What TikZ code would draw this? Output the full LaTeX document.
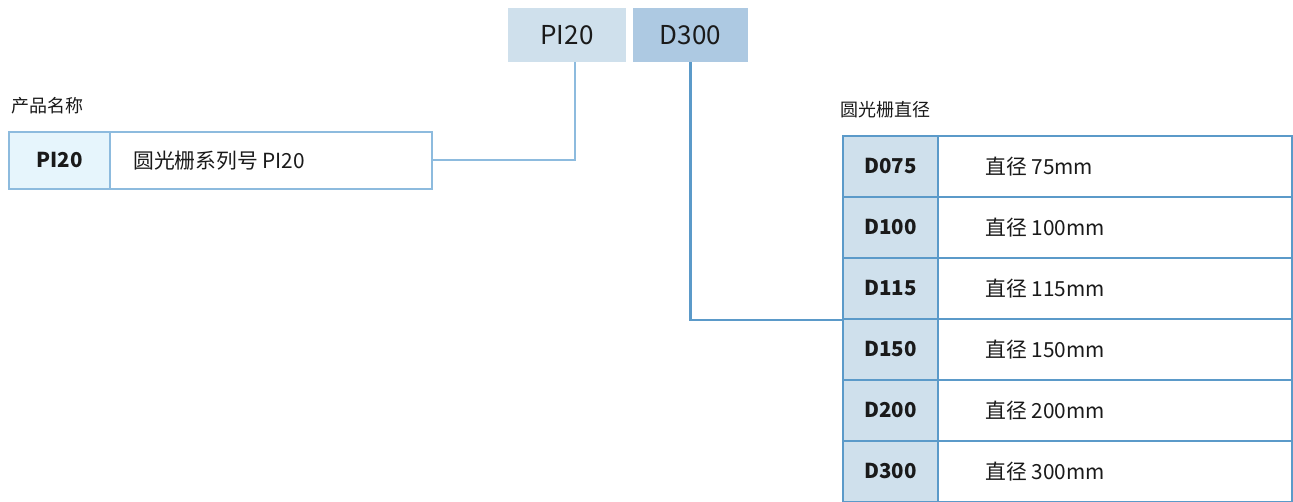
\documentclass[tikz,border=0pt]{standalone}
\usepackage{fontspec}
\setmainfont{Noto Sans CJK SC}
\definecolor{txt}{HTML}{1A1A1A}
\definecolor{topa}{HTML}{CFE0EC}
\definecolor{topb}{HTML}{ADC9E2}
\definecolor{lline}{HTML}{8DBBDE}
\definecolor{dline}{HTML}{5B9AC9}
\definecolor{lfill}{HTML}{E6F5FC}
\definecolor{rfill}{HTML}{CFE0EC}
\begin{document}
\begin{tikzpicture}[x=1pt,y=-1pt,
  topbox/.style={inner sep=0, minimum height=54, font=\fontsize{26}{29}\selectfont, text=txt},
  lcell/.style={draw=lline, line width=2, inner sep=0, minimum height=57, text=txt},
  rcell/.style={draw=dline, line width=2.2, inner sep=0, minimum height=61, text=txt},
  codetext/.style={font=\fontsize{20.5}{23}\selectfont\bfseries},
  desctext/.style={font=\fontsize{20.8}{23}\selectfont},
  captext/.style={font=\fontsize{18}{20}\selectfont, text=txt, anchor=west, inner sep=0},
  lconn/.style={draw=lline, line width=2},
  rconn/.style={draw=dline, line width=2.2}]
\useasboundingbox (0,0) rectangle (1293,502);
% top boxes
\node[topbox, fill=topa, minimum width=118] (tpi) at (567,35) {PI20};
\node[topbox, fill=topb, minimum width=115] (td) at (690.5,35) {D300};
% left table
\node[captext] (lcap) at (11,106) {产品名称};
\node[lcell, fill=lfill, minimum width=101, codetext] (l1) at (59.5,160.5) {PI20};
\node[lcell, minimum width=322] (l2) at (271,160.5) {};
\node[desctext, anchor=west, inner sep=0, text=txt] (l2t) at (133,160.5) {圆光栅系列号 PI20};
% right table
\node[captext] (rcap) at (840,110) {圆光栅直径};
\foreach \c/\d [count=\i from 0] in {D075/75, D100/100, D115/115, D150/150, D200/200, D300/300}{
  \node[rcell, fill=rfill, minimum width=95, codetext] (r\i a) at (890.5,{166.5+61*\i}) {\c};
  \node[rcell, minimum width=354] (r\i b) at (1115,{166.5+61*\i}) {};
  \node[desctext, anchor=west, inner sep=0, text=txt] (r\i t) at (985,{166.5+61*\i}) {直径 \d mm};
}
% connectors
\coordinate (c1) at ([xshift=8]tpi.south);
\draw[lconn] (c1) |- (l2.east);
\draw[rconn] (td.south) |- (r2a.south west);
\end{tikzpicture}
\end{document}
